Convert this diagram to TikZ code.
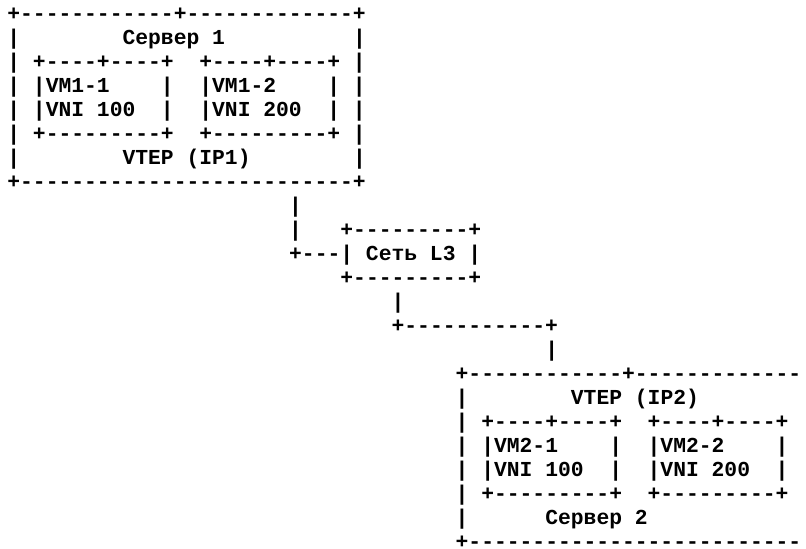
\documentclass[tikz,border=0pt]{standalone}
\usepackage{fontspec}
\setmonofont{Liberation Mono}
\usepackage{tikz}

\tikzset{
  ascii/.style={font=\ttfamily\bfseries\fontsize{16pt}{18pt}\selectfont,
    text=black, inner sep=0pt, anchor=base west, xshift=-4.8pt, yshift=-4.2pt}
}

\begin{document}
\begin{tikzpicture}[x=9.6075pt, y=-18pt]
  \useasboundingbox (-1.054,-0.625) rectangle (61.87,22.25);
  \fill[white] (-1.054,-0.625) rectangle (61.87,22.25);
  \clip (-1.054,-0.625) rectangle (61.87,22.25);

  % Server 1
  \node[ascii] (s1top)   at (0,0) {+------------+-------------+};
  \node[ascii] (s1name)  at (0,1) {|~~~~~~~~Сервер~1~~~~~~~~~~|};
  \node[ascii] (s1vmtop) at (0,2) {|~+----+----+~~+----+----+~|};
  \node[ascii] (s1vm)    at (0,3) {|~|VM1-1~~~~|~~|VM1-2~~~~|~|};
  \node[ascii] (s1vni)   at (0,4) {|~|VNI~100~~|~~|VNI~200~~|~|};
  \node[ascii] (s1vmbot) at (0,5) {|~+---------+~~+---------+~|};
  \node[ascii] (s1vtep)  at (0,6) {|~~~~~~~~VTEP~(IP1)~~~~~~~~|};
  \node[ascii] (s1bot)   at (0,7) {+--------------------------+};

  % L3 network
  \node[ascii] (up1)    at (22,8)  {|};
  \node[ascii] (nettop) at (22,9)  {|~~~+---------+};
  \node[ascii] (net)    at (22,10) {+---|~Сеть~L3~|};
  \node[ascii] (netbot) at (26,11) {+---------+};
  \node[ascii] (down1)  at (30,12) {|};
  \node[ascii] (down2)  at (30,13) {+-----------+};
  \node[ascii] (down3)  at (42,14) {|};

  % Server 2
  \node[ascii] (s2top)   at (35,15) {+------------+-------------};
  \node[ascii] (s2vtep)  at (35,16) {|~~~~~~~~VTEP~(IP2)};
  \node[ascii] (s2vmtop) at (35,17) {|~+----+----+~~+----+----+};
  \node[ascii] (s2vm)    at (35,18) {|~|VM2-1~~~~|~~|VM2-2~~~~|};
  \node[ascii] (s2vni)   at (35,19) {|~|VNI~100~~|~~|VNI~200~~|};
  \node[ascii] (s2vmbot) at (35,20) {|~+---------+~~+---------+};
  \node[ascii] (s2name)  at (35,21) {|~~~~~~Сервер~2};
  \node[ascii] (s2bot)   at (35,22) {+--------------------------};
\end{tikzpicture}
\end{document}
